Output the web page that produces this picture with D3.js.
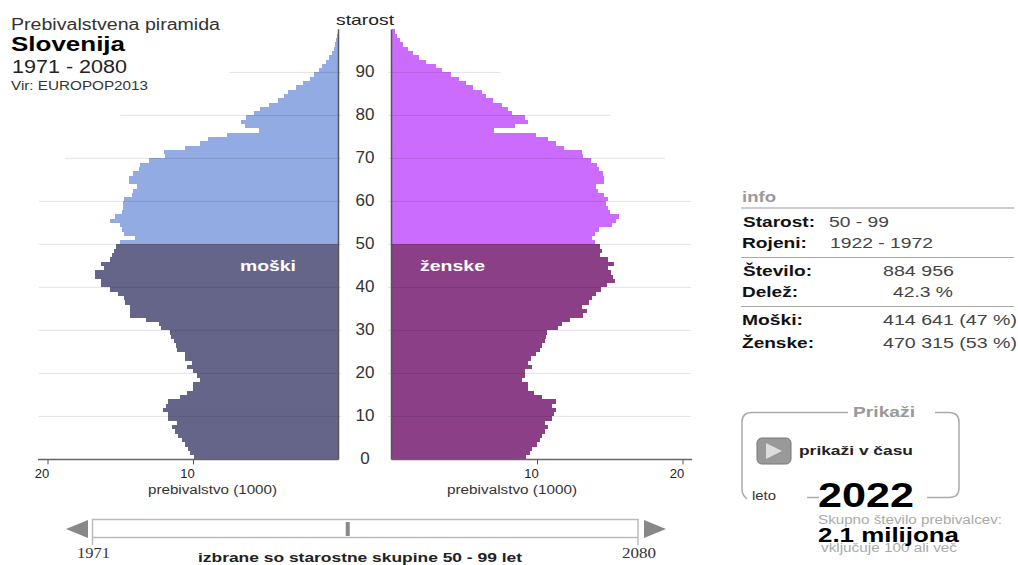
<!DOCTYPE html>
<html><head><meta charset="utf-8">
<style>html,body{margin:0;padding:0;background:#fff}svg{display:block}</style>
<script src="https://cdn.jsdelivr.net/npm/d3@7"></script></head><body>
<svg id="c" width="1018" height="565"></svg>
<script>
const ageStart = 0;
const selectedAges = [50, 99];
const males = [9.90,10.19,10.36,10.58,10.77,11.04,11.27,11.43,11.11,11.73,11.73,12.07,11.84,11.75,10.88,10.42,9.97,10.01,9.55,9.74,10.01,10.42,10.08,10.52,10.58,11.07,11.16,11.34,11.52,11.57,12.21,12.37,13.22,14.32,14.32,14.36,14.66,14.73,15.17,15.69,16.31,16.31,16.72,16.72,16.15,16.31,15.69,15.58,15.46,15.30,15.01,14.02,14.73,14.89,15.05,15.69,15.35,14.89,14.82,14.82,14.73,14.20,14.14,13.86,14.43,14.43,14.14,13.68,13.63,13.01,11.91,11.98,10.58,9.51,9.00,7.63,5.43,6.41,6.71,6.35,5.80,5.38,4.81,4.19,3.73,3.44,2.93,2.41,1.99,1.67,1.37,1.15,0.85,0.62,0.44,0.32,0.23,0.16,0.09,0.05];
const females = [9.23,9.51,9.69,9.97,10.19,10.36,10.56,10.77,10.54,11.00,11.16,11.34,11.00,11.29,10.31,9.81,9.35,9.35,8.96,9.19,9.19,9.67,9.35,9.62,9.90,10.19,10.31,10.58,10.65,10.70,11.45,11.75,12.26,13.17,13.45,13.10,13.59,13.75,14.04,14.39,14.78,15.35,15.19,15.07,14.85,15.28,14.91,14.32,14.46,14.36,13.97,13.75,13.97,14.25,15.17,15.42,15.65,15.01,14.85,14.73,14.91,14.62,14.20,14.04,14.62,14.62,14.55,14.25,14.09,13.68,13.13,13.06,11.87,11.29,10.77,9.90,7.06,8.48,9.35,9.16,8.25,8.02,7.61,6.99,6.48,6.19,5.57,5.11,4.63,4.12,3.44,3.05,2.36,1.86,1.49,1.15,0.80,0.57,0.39,0.23];
const ageTicks = [0,10,20,30,40,50,60,70,80,90];
const popTicks = [10,20];
const gridMaxPop = {10:20.6,20:20.6,30:20.6,40:20.6,50:20.6,60:20.6,70:18.8,80:15,90:7.5};
const yearRange = [1971, 2080];
const currentYear = 2022;
const infoRows = [
  ["Starost:", "50 - 99"], ["Rojeni:", "1922 - 1972"], ["Število:", "884 956"],
  ["Delež:", "42.3 %"], ["Moški:", "414 641 (47 %)"], ["Ženske:", "470 315 (53 %)"]
];

const sans = '"Liberation Sans",Arial,sans-serif';
const svg = d3.select("#c");
const y = d3.scaleLinear().domain([0,100]).range([459.4,29.4]);
const xL = d3.scaleLinear().domain([0,20]).range([338.5,47.5]);
const xR = d3.scaleLinear().domain([0,20]).range([391.5,682.5]);
const bandH = y(0)-y(1);
const isSel = a => a>=selectedAges[0] && a<=selectedAges[1];
const colors = {mDark:"#656589",mLight:"#92ABE3",fDark:"#8B3F87",fLight:"#CC6CFF"};

function T(s,x0,x1,base,size,o={}){
  return svg.append("text").attr("x",x0).attr("y",base).attr("font-size",size)
    .attr("font-weight",o.b?"bold":"normal").attr("fill",o.c||"#222")
    .attr("font-family",o.f||sans)
    .attr("textLength",x1-x0).attr("lengthAdjust","spacingAndGlyphs").text(s);
}

const ages = d3.range(males.length).map(i=>ageStart+i);
svg.append("g").selectAll("rect").data(ages).join("rect")
  .attr("x",a=>xL(males[a])).attr("width",a=>xL(0)-xL(males[a]))
  .attr("y",a=>y(a+1)).attr("height",bandH).attr("shape-rendering","crispEdges")
  .attr("fill",a=>isSel(a)?colors.mLight:colors.mDark);
svg.append("g").selectAll("rect").data(ages).join("rect")
  .attr("x",xR(0)).attr("width",a=>xR(females[a])-xR(0))
  .attr("y",a=>y(a+1)).attr("height",bandH).attr("shape-rendering","crispEdges")
  .attr("fill",a=>isSel(a)?colors.fLight:colors.fDark);

const gridAges = ageTicks.filter(a=>a>0);
svg.append("g").selectAll("line").data(gridAges).join("line")
  .attr("x1",a=>xL(gridMaxPop[a])).attr("x2",341).attr("y1",a=>y(a)).attr("y2",a=>y(a))
  .attr("stroke","#000").attr("stroke-opacity",.11);
svg.append("g").selectAll("line").data(gridAges).join("line")
  .attr("x1",388).attr("x2",a=>xR(gridMaxPop[a])).attr("y1",a=>y(a)).attr("y2",a=>y(a))
  .attr("stroke","#000").attr("stroke-opacity",.11);

function popAxis(scale,dx,x0,x1){
  const g = svg.append("g").attr("transform",`translate(0,${y(0)})`).call(d3.axisBottom(scale).tickValues(popTicks).tickSize(5).tickPadding(4));
  g.select(".domain").remove();
  g.selectAll("line").attr("stroke","#555");
  g.selectAll("text").attr("font-size",13).attr("fill","#222").attr("dx",dx).attr("font-family",sans);
  g.append("line").attr("x1",x0).attr("x2",x1).attr("stroke","#666").attr("stroke-width",1.5);
}
popAxis(xL,-6,38,338.5);
popAxis(xR,-6,391.5,692);

[xL(0),xR(0)].forEach(x=>svg.append("line").attr("x1",x).attr("x2",x).attr("y1",y(100)).attr("y2",y(0)).attr("stroke","#555").attr("stroke-width",1.5));

const ageAxis = svg.append("g").attr("transform","translate(365,-1)").call(d3.axisLeft(y).tickValues(ageTicks).tickSize(0).tickPadding(0));
ageAxis.select(".domain").remove();
ageAxis.selectAll("text").attr("font-size",17).attr("fill","#333").attr("text-anchor","middle").attr("font-family",sans);

T("Prebivalstvena piramida",11,220,30,16,{c:"#333"});
T("Slovenija",11,125,51,21,{b:1,c:"#000"});
T("1971 - 2080",12,127,73,18);
T("Vir: EUROPOP2013",11,148,90,12,{c:"#333"});
T("starost",336,394,25,15);
T("moški",240,296,271,15,{b:1,c:"#fff"});
T("ženske",420,485,271,15,{b:1,c:"#fff"});
T("prebivalstvo (1000)",148,277,494,12,{c:"#333"});
T("prebivalstvo (1000)",447,577,494,12,{c:"#333"});

// info panel
T("info",742,776,202,15,{b:1,c:"#999"});
[[208,2,"#ccc"],[257.5,1,"#aaa"],[306.5,1,"#aaa"]].forEach(([ly,w,c])=>svg.append("line").attr("x1",741).attr("x2",1014).attr("y1",ly).attr("y2",ly).attr("stroke",c).attr("stroke-width",w));
const lblX=[[743,815],[742,807],[743,812],[742,798],[742,803],[742,814]];
const valX=[[829,889],[830,933],[883,954],[893,953],[883,1017],[883,1017]];
const rowY=[227,248,276,297,325,348];
infoRows.forEach((r,i)=>{
  T(r[0],lblX[i][0],lblX[i][1],rowY[i],15,{b:1,c:"#111"});
  T(r[1],valX[i][0],valX[i][1],rowY[i],15,{c:"#444"});
});

// Prikaži box
const boxC="#aaa";
svg.append("path").attr("fill","none").attr("stroke",boxC).attr("stroke-width",1.5)
  .attr("d","M848,412.5H752Q742,412.5 742,422V489Q742,495 747,499");
svg.append("path").attr("fill","none").attr("stroke",boxC).attr("stroke-width",1.5)
  .attr("d","M935,412.5H949Q959,412.5 959,422V488Q959,497.5 949,497.5H927");
svg.append("line").attr("x1",807).attr("x2",819).attr("y1",497.5).attr("y2",497.5).attr("stroke",boxC).attr("stroke-width",1.5);
T("Prikaži",853,915,417,15,{b:1,c:"#999"});
svg.append("rect").attr("x",757).attr("y",438).attr("width",34).attr("height",26).attr("rx",5).attr("fill","#999").attr("stroke","#777").attr("stroke-width",1);
svg.append("path").attr("d","M766,443L782,451L766,459Z").attr("fill","#ddd");
T("prikaži v času",799,913,455,13,{b:1,c:"#222"});
T("leto",752,776,500,12,{c:"#333"});
T(String(currentYear),818,914,507,35,{b:1,c:"#000"});
T("Skupno število prebivalcev:",818,1002,524,12,{c:"#aaa"});
T("vključuje 100 ali več",821,957,552,12,{c:"#aaa"});
T("2.1 milijona",818,959,541.5,20,{b:1,c:"#000"});

// year slider
const sx = d3.scaleLinear().domain(yearRange).range([92.5,638]);
svg.append("rect").attr("x",sx(1971)).attr("y",519.5).attr("width",sx(2080)-sx(1971)).attr("height",18).attr("fill","#fff").attr("stroke","#bbb").attr("stroke-width",1.5);
svg.append("rect").attr("x",sx(currentYear)-2).attr("y",522).attr("width",4).attr("height",14).attr("fill","#888");
svg.append("path").attr("d","M66,529L88,520V538Z").attr("fill","#888");
svg.append("path").attr("d","M666,529L644,520V538Z").attr("fill","#888");
yearRange.forEach(v=>svg.append("line").attr("x1",sx(v)).attr("x2",sx(v)).attr("y1",538).attr("y2",545).attr("stroke","#bbb").attr("stroke-width",1.5));
T(String(yearRange[0]),77,110,558,14,{f:'"Liberation Serif",serif',c:"#333"});
T(String(yearRange[1]),622,656,558,14,{f:'"Liberation Serif",serif',c:"#333"});
T("izbrane so starostne skupine 50 - 99 let",198,522,562,13,{b:1,c:"#222"});
</script></body></html>
